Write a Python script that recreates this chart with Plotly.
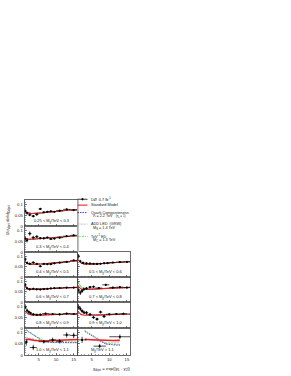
import plotly.graph_objects as go

# ---------------- data ----------------
chi_grid = [1, 2, 3, 4, 5, 6, 7, 8, 9, 10, 11, 12, 13, 14, 15, 16]

# data points per mass bin
x_a = [1.25, 1.75, 2.5, 3.5, 4.5, 5.5, 6.5, 7.5, 8.5, 9.5, 11, 13, 15]
ex_a = [0.25, 0.25, 0.5, 0.5, 0.5, 0.5, 0.5, 0.5, 0.5, 0.5, 1, 1, 1]

y_025_03 = [0.070, 0.060, 0.052, 0.046, 0.054, 0.079, 0.064, 0.066, 0.068, 0.066, 0.071, 0.077, 0.074]
ey_025_03 = [0.007, 0.007, 0.006, 0.005, 0.005, 0.004, 0.004, 0.003, 0.003, 0.003, 0.003, 0.003, 0.003]
y_03_04 = [0.062, 0.055, 0.086, 0.068, 0.072, 0.065, 0.064, 0.068, 0.061, 0.063, 0.067, 0.074, 0.078]
ey_03_04 = [0.012, 0.010, 0.010, 0.008, 0.006, 0.005, 0.005, 0.004, 0.004, 0.004, 0.003, 0.003, 0.003]
y_04_05 = [0.086, 0.068, 0.064, 0.070, 0.063, 0.052, 0.063, 0.062, 0.062, 0.066, 0.069, 0.073, 0.080]
ey_04_05 = [0.008, 0.007, 0.006, 0.006, 0.005, 0.005, 0.004, 0.004, 0.004, 0.004, 0.003, 0.003, 0.003]
y_05_06 = [0.100, 0.076, 0.068, 0.066, 0.065, 0.064, 0.063, 0.064, 0.066, 0.067, 0.070, 0.072, 0.073]
ey_05_06 = [0.009, 0.007, 0.006, 0.005, 0.005, 0.004, 0.004, 0.004, 0.004, 0.003, 0.003, 0.003, 0.003]
y_06_07 = [0.083, 0.066, 0.062, 0.064, 0.062, 0.061, 0.063, 0.064, 0.066, 0.067, 0.068, 0.070, 0.070]
ey_06_07 = [0.008, 0.006, 0.005, 0.005, 0.004, 0.004, 0.004, 0.003, 0.003, 0.003, 0.003, 0.003, 0.003]

x_b = [1.25, 1.75, 2.25, 2.75, 3.5, 4.5, 5.5, 7, 9, 11, 13, 15]
ex_b = [0.25, 0.25, 0.25, 0.25, 0.5, 0.5, 0.5, 1, 1, 1, 1, 1]
y_07_08 = [0.058, 0.046, 0.054, 0.062, 0.066, 0.072, 0.074, 0.068, 0.083, 0.070, 0.072, 0.070]
ey_07_08 = [0.014, 0.011, 0.010, 0.009, 0.007, 0.006, 0.006, 0.005, 0.005, 0.004, 0.004, 0.004]
y_08_09 = [0.098, 0.082, 0.075, 0.070, 0.064, 0.062, 0.063, 0.068, 0.066, 0.064, 0.068, 0.066]
ey_08_09 = [0.010, 0.009, 0.008, 0.007, 0.006, 0.005, 0.005, 0.004, 0.004, 0.004, 0.004, 0.004]

x_c = [1.25, 1.75, 2.25, 2.75, 3.5, 4.5, 5.5, 6.5, 7.5, 8.5, 10, 12, 14]
ex_c = [0.25, 0.25, 0.25, 0.25, 0.5, 0.5, 0.5, 0.5, 0.5, 0.5, 1, 1, 1]
y_09_10 = [0.098, 0.090, 0.080, 0.074, 0.072, 0.064, 0.050, 0.042, 0.075, 0.055, 0.065, 0.066, 0.067]
ey_09_10 = [0.012, 0.011, 0.010, 0.009, 0.008, 0.007, 0.007, 0.007, 0.007, 0.007, 0.005, 0.005, 0.005]

x_10_11 = [1.5, 3.5, 6.5, 9, 11, 13, 15]
ex_10_11 = [0.5, 1, 1.5, 1, 1, 1, 1]
y_10_11 = [0.058, 0.034, 0.060, 0.068, 0.062, 0.090, 0.088]
ey_10_11 = [0.016, 0.012, 0.008, 0.010, 0.010, 0.012, 0.012]

x_gt11 = [2.25, 7.25, 13]
ex_gt11 = [1.25, 1.75, 3]
y_gt11 = [0.068, 0.040, 0.082]
ey_gt11 = [0.014, 0.010, 0.010]

# theory curves
sm_025_03 = [0.068, 0.061, 0.058, 0.058, 0.059, 0.061, 0.063, 0.065, 0.066, 0.067, 0.069, 0.071, 0.073, 0.074, 0.075, 0.075]
sm_03_04 = [0.066, 0.060, 0.060, 0.061, 0.062, 0.063, 0.064, 0.065, 0.066, 0.068, 0.069, 0.071, 0.072, 0.074, 0.075, 0.076]
sm_04_05 = [0.075, 0.064, 0.061, 0.061, 0.062, 0.063, 0.064, 0.066, 0.067, 0.068, 0.070, 0.072, 0.073, 0.075, 0.077, 0.078]
sm_05_06 = [0.085, 0.067, 0.062, 0.061, 0.062, 0.063, 0.064, 0.065, 0.066, 0.067, 0.069, 0.070, 0.072, 0.073, 0.074, 0.075]
sm_06_07 = [0.080, 0.065, 0.062, 0.062, 0.062, 0.063, 0.064, 0.065, 0.066, 0.067, 0.068, 0.069, 0.070, 0.070, 0.071, 0.071]
sm_07_08 = [0.078, 0.063, 0.061, 0.061, 0.062, 0.063, 0.064, 0.065, 0.066, 0.067, 0.068, 0.069, 0.070, 0.070, 0.071, 0.071]
np_07_08 = [0.100, 0.072, 0.065, 0.063, 0.063, 0.064, 0.065, 0.066, 0.067, 0.068, 0.068, 0.069, 0.070, 0.070, 0.071, 0.071]
sm_08_09 = [0.082, 0.066, 0.062, 0.061, 0.061, 0.061, 0.062, 0.063, 0.063, 0.064, 0.064, 0.065, 0.065, 0.066, 0.066, 0.066]
np_08_09 = [0.106, 0.074, 0.066, 0.064, 0.063, 0.063, 0.064, 0.064, 0.065, 0.065, 0.066, 0.066, 0.066, 0.067, 0.067, 0.067]
sm_09_10 = [0.078, 0.063, 0.060, 0.059, 0.059, 0.060, 0.061, 0.062, 0.063, 0.063, 0.064, 0.064, 0.065, 0.065, 0.066, 0.066]
np_09_10 = [0.106, 0.082, 0.068, 0.063, 0.062, 0.062, 0.062, 0.063, 0.063, 0.064, 0.064, 0.064, 0.065, 0.065, 0.065, 0.065]

grid_10_11 = [1.5, 2, 4, 6.5, 9, 11, 13, 16]
sm_10_11 = [0.066, 0.071, 0.065, 0.063, 0.065, 0.066, 0.068, 0.070]
qc_10_11 = [0.112, 0.105, 0.085, 0.060, 0.056, 0.055, 0.055, 0.055]
add_10_11 = [0.080, 0.077, 0.070, 0.064, 0.062, 0.062, 0.062, 0.062]
ted_10_11 = [0.114, 0.108, 0.088, 0.063, 0.058, 0.057, 0.057, 0.057]

grid_gt11 = [3, 5, 7, 9, 11, 13]
sm_gt11 = [0.070, 0.068, 0.066, 0.065, 0.065, 0.066]
qc_gt11 = [0.106, 0.088, 0.068, 0.049, 0.046, 0.044]
add_gt11 = [0.075, 0.068, 0.060, 0.055, 0.055, 0.055]
ted_gt11 = [0.110, 0.092, 0.072, 0.052, 0.049, 0.047]

labels = ["0.25 < M<sub>jj</sub>/TeV < 0.3", "0.3 < M<sub>jj</sub>/TeV < 0.4",
          "0.4 < M<sub>jj</sub>/TeV < 0.5", "0.5 < M<sub>jj</sub>/TeV < 0.6",
          "0.6 < M<sub>jj</sub>/TeV < 0.7", "0.7 < M<sub>jj</sub>/TeV < 0.8",
          "0.8 < M<sub>jj</sub>/TeV < 0.9", "0.9 < M<sub>jj</sub>/TeV < 1.0",
          "1.0 < M<sub>jj</sub>/TeV < 1.1", "M<sub>jj</sub>/TeV > 1.1"]

# ---------------- layout ----------------
W, H = 291, 376
col_px = [(24.5, 77.2), (77.7, 130.4)]
row_px = [201, 227.5, 253.5, 278.5, 304, 330, 357]

def px(xp):
    return xp / W

def py(yp):
    return 1 - yp / H

# (label idx, col, row, x, ex, y, ey, grid, sm, qc, add, ted, label x)
panels = [
    (0, 0, 0, x_a, ex_a, y_025_03, ey_025_03, chi_grid, sm_025_03, sm_025_03, sm_025_03, sm_025_03, 14.6),
    (1, 0, 1, x_a, ex_a, y_03_04, ey_03_04, chi_grid, sm_03_04, sm_03_04, sm_03_04, sm_03_04, 14.6),
    (2, 0, 2, x_a, ex_a, y_04_05, ey_04_05, chi_grid, sm_04_05, sm_04_05, sm_04_05, sm_04_05, 14.6),
    (3, 1, 2, x_a, ex_a, y_05_06, ey_05_06, chi_grid, sm_05_06, sm_05_06, sm_05_06, sm_05_06, 14.6),
    (4, 0, 3, x_a, ex_a, y_06_07, ey_06_07, chi_grid, sm_06_07, sm_06_07, sm_06_07, sm_06_07, 14.6),
    (5, 1, 3, x_b, ex_b, y_07_08, ey_07_08, chi_grid, sm_07_08, sm_07_08, np_07_08, np_07_08, 14.6),
    (6, 0, 4, x_b, ex_b, y_08_09, ey_08_09, chi_grid, sm_08_09, sm_08_09, np_08_09, np_08_09, 14.6),
    (7, 1, 4, x_c, ex_c, y_09_10, ey_09_10, chi_grid, sm_09_10, np_09_10, np_09_10, np_09_10, 14.6),
    (8, 0, 5, x_10_11, ex_10_11, y_10_11, ey_10_11, grid_10_11, sm_10_11, qc_10_11, add_10_11, ted_10_11, 14.6),
    (9, 1, 5, x_gt11, ex_gt11, y_gt11, ey_gt11, grid_gt11, sm_gt11, qc_gt11, add_gt11, ted_gt11, 11.8),
]

FONT = "Liberation Sans, Arial, sans-serif"
RED = "#ee2020"
BLUE = "#1010c0"
GREY = "#b0b0b0"
GREEN = "#30d030"
fig = go.Figure()
annotations = []
shapes = []
layout = {}

for i, (li, c, r, dx, dex, dy, dey, g, sm, qc, add, ted, lx) in enumerate(panels):
    n = i + 1
    xa = "x" if n == 1 else f"x{n}"
    ya = "y" if n == 1 else f"y{n}"
    common = dict(xaxis=xa, yaxis=ya, showlegend=False, hoverinfo="skip")
    fig.add_trace(go.Scatter(x=g, y=add, mode="lines",
                             line=dict(color=GREY, width=0.9, dash="2px,1px"), **common))
    fig.add_trace(go.Scatter(x=g, y=ted, mode="lines",
                             line=dict(color=GREEN, width=0.8, dash="2px,1px,0.7px,1px"), **common))
    fig.add_trace(go.Scatter(x=g, y=qc, mode="lines",
                             line=dict(color=BLUE, width=0.7, dash="1.5px,1px"), **common))
    fig.add_trace(go.Scatter(x=g, y=sm, mode="lines",
                             line=dict(color=RED, width=1.6 if r == 5 else 1.1), **common))
    fig.add_trace(go.Scatter(x=dx, y=dy, mode="markers",
                             marker=dict(color="black", size=2.2),
                             error_x=dict(type="data", array=dex, color="black", thickness=0.7, width=0),
                             error_y=dict(type="data", array=dey, color="black", thickness=0.7, width=0),
                             **common))
    x0, x1 = col_px[c]
    y_top, y_bot = row_px[r], row_px[r + 1]
    key = "" if n == 1 else str(n)
    layout["xaxis" + key] = dict(
        domain=[px(x0), px(x1)], anchor=ya, range=[1, 16],
        tickvals=[5, 10, 15], ticks="inside", ticklen=2.2, tickwidth=0.6, tickcolor="#333",
        minor=dict(ticks="inside", ticklen=1.1, dtick=1, tickwidth=0.5, tickcolor="#333"),
        showticklabels=(r == 5), tickfont=dict(size=4.2, family=FONT, color="#222"),
        showline=True, mirror=True, linecolor="#444", linewidth=0.8,
        showgrid=False, zeroline=False, fixedrange=True)
    layout["yaxis" + key] = dict(
        domain=[py(y_bot), py(y_top)], anchor=xa, range=[0, 0.12],
        tickvals=[0, 0.05, 0.1], ticktext=["0", "0.05", "0.1"],
        ticks="inside", ticklen=2.2, tickwidth=0.6, tickcolor="#333",
        minor=dict(ticks="inside", ticklen=1.1, dtick=0.01, tickwidth=0.5, tickcolor="#333"),
        showticklabels=(c == 0), tickfont=dict(size=4.2, family=FONT, color="#222"),
        showline=True, mirror=True, linecolor="#444", linewidth=0.8,
        showgrid=False, zeroline=False, fixedrange=True)
    annotations.append(dict(x=lx, y=0.024, xref=xa, yref=ya, text=labels[li],
                            showarrow=False, xanchor="right", yanchor="middle",
                            font=dict(size=4.0, family=FONT, color="#222")))

# grey strip beside the top two panels
shapes.append(dict(type="line", xref="paper", yref="paper",
                   x0=px(78.2), x1=px(78.2), y0=py(201), y1=py(253.5),
                   line=dict(color="#c4c4c4", width=1.8)))

# legend (drawn in paper space)
lx0, lx1 = 77.5, 87.5
tx = 89.0
leg = [
    (200.3, "black", None, "DØ  0.7 fb<sup>-1</sup>"),
    (206.2, RED, "solid", "Standard Model"),
    (213.7, BLUE, "1.5px,1px", "Quark Compositeness"),
    (225.3, GREY, "2px,1px", "ADD LED  (GRW)"),
    (237.7, GREEN, "2px,1px,0.7px,1px", "TeV<sup>-1</sup> ED"),
]
for yy, col, dash, txt in leg:
    shapes.append(dict(type="line", xref="paper", yref="paper",
                       x0=px(lx0), x1=px(lx1), y0=py(yy), y1=py(yy),
                       line=dict(color=col, width=1.1 if col == RED else 0.8,
                                 dash=dash if dash else "solid")))
    annotations.append(dict(x=px(tx), y=py(yy), xref="paper", yref="paper", text=txt,
                            showarrow=False, xanchor="left", yanchor="middle",
                            font=dict(size=3.8, family=FONT, color="#222")))
shapes.append(dict(type="circle", xref="paper", yref="paper",
                   x0=px(81.6), x1=px(83.4), y0=py(201.2), y1=py(199.4),
                   fillcolor="black", line=dict(color="black", width=0.3)))
sub = [
    (217.4, "Λ = 2.2 TeV   <span style='font-size:3px'>(η<sub>0</sub> = 1)</span>"),
    (229.3, "M<sub>S</sub> = 1.4 TeV"),
    (241.7, "M<sub>C</sub> = 1.3 TeV"),
]
for yy, txt in sub:
    annotations.append(dict(x=px(91), y=py(yy), xref="paper", yref="paper", text=txt,
                            showarrow=False, xanchor="left", yanchor="middle",
                            font=dict(size=3.8, family=FONT, color="#222")))

# axis titles
annotations.append(dict(x=px(133), y=py(370.5), xref="paper", yref="paper",
                        text="χ<sub>dijet</sub> = exp(|y<sub>1</sub> - y<sub>2</sub>|)",
                        showarrow=False, xanchor="right", yanchor="middle",
                        font=dict(size=4.4, family=FONT, color="#222")))
annotations.append(dict(x=px(7.5), y=py(222), xref="paper", yref="paper",
                        text="1/σ<sub>dijet</sub> dσ/dχ<sub>dijet</sub>", textangle=-90,
                        showarrow=False, xanchor="center", yanchor="middle",
                        font=dict(size=4.4, family=FONT, color="#222")))

fig.update_layout(width=W, height=H, margin=dict(l=0, r=0, t=0, b=0),
                  paper_bgcolor="white", plot_bgcolor="white",
                  annotations=annotations, shapes=shapes, **layout)
fig.write_html("out.html", config={"displayModeBar": False, "staticPlot": True},
               post_script="document.body.style.margin='0';document.body.style.overflow='hidden';")
